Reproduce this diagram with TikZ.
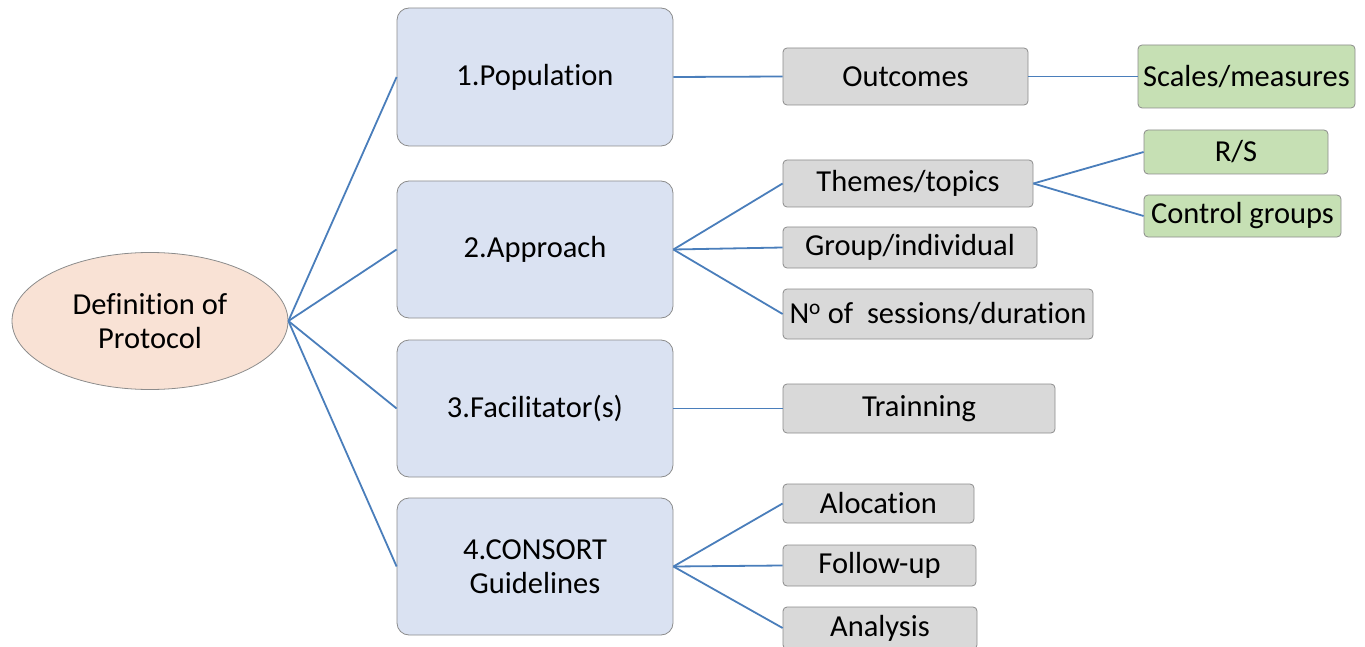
\documentclass[tikz,border=0pt]{standalone}
\usepackage{fontspec}
\setmainfont{Carlito}[Ligatures=NoCommon]
\usetikzlibrary{shapes.geometric}
\definecolor{lineblue}{HTML}{4A7EBB}
\definecolor{edgegray}{HTML}{8C8C8C}
\definecolor{peach}{HTML}{F9E2D5}
\definecolor{lightblue}{HTML}{DAE2F2}
\definecolor{lightgray}{HTML}{D9D9D9}
\definecolor{lightgreen}{HTML}{C6E0B4}
\tikzset{
  conn/.style={draw=lineblue, line width=1.8pt},
  basebox/.style={draw=edgegray, line width=0.8pt, inner sep=0pt, align=center, anchor=center},
  bluebox/.style={basebox, fill=lightblue, rounded corners=12pt, minimum width=276pt},
  graybox/.style={basebox, fill=lightgray, rounded corners=4pt},
  greenbox/.style={basebox, fill=lightgreen, rounded corners=4pt},
  rootnode/.style={ellipse, draw=edgegray, line width=0.8pt, fill=peach, inner sep=0pt, minimum width=276pt, minimum height=137pt, align=center}
}
\begin{document}
\begin{tikzpicture}[x=1pt,y=-1pt,font=\fontsize{30.5}{34}\selectfont]
\useasboundingbox (0,0) rectangle (1365,647);
\node[rootnode] (root) at (150,321) {Definition of\\Protocol};

\node[bluebox, minimum height=138pt] (p1) at (535,77) {1.Population};
\node[bluebox, minimum height=137pt] (p2) at (535,249.5) {2.Approach};
\node[bluebox, minimum height=137pt] (p3) at (535,408.5) {3.Facilitator(s)};
\node[bluebox, minimum height=137pt] (p4) at (535,566.5) {4.CONSORT\\Guidelines};

\node[graybox, minimum width=245pt, minimum height=57pt] (outc) at (905.5,76.5) {Outcomes};
\node[graybox, minimum width=250pt, minimum height=47pt] (them) at (908,183.5) {Themes/topics};
\node[graybox, minimum width=254pt, minimum height=41pt] (grp) at (910,247.5) {Group/individual};
\node[graybox, minimum width=310pt, minimum height=50pt] (ses) at (938,314) {N\textsuperscript{o} of~ sessions/duration};
\node[graybox, minimum width=272pt, minimum height=49pt] (trn) at (919,408.5) {Trainning};
\node[graybox, minimum width=191pt, minimum height=39pt] (alo) at (878.5,503.5) {Alocation};
\node[graybox, minimum width=193pt, minimum height=41pt] (fol) at (879.5,565.5) {Follow-up};
\node[graybox, minimum width=194pt, minimum height=42pt] (ana) at (880,628) {Analysis};

\node[greenbox, minimum width=217pt, minimum height=63pt] (scl) at (1246.5,76.5) {Scales/measures};
\node[greenbox, minimum width=184pt, minimum height=44pt] (rs) at (1236,152) {R/S};
\node[greenbox, minimum width=197pt, minimum height=42pt] (ctl) at (1242.5,216) {Control groups};

\draw[conn] (root.east) -- (p1.west);
\draw[conn] (root.east) -- (p2.west);
\draw[conn] (root.east) -- (p3.west);
\draw[conn] (root.east) -- (p4.west);

\draw[conn] (p1.east) -- (outc.west);
\draw[conn] (p2.east) -- (them.west);
\draw[conn] (p2.east) -- (grp.west);
\draw[conn] (p2.east) -- (ses.west);
\draw[conn] (p3.east) -- (trn.west);
\draw[conn] (p4.east) -- (alo.west);
\draw[conn] (p4.east) -- (fol.west);
\draw[conn] (p4.east) -- (ana.west);

\draw[conn] (outc.east) -- (scl.west);
\draw[conn] (them.east) -- (rs.west);
\draw[conn] (them.east) -- (ctl.west);
\end{tikzpicture}
\end{document}
